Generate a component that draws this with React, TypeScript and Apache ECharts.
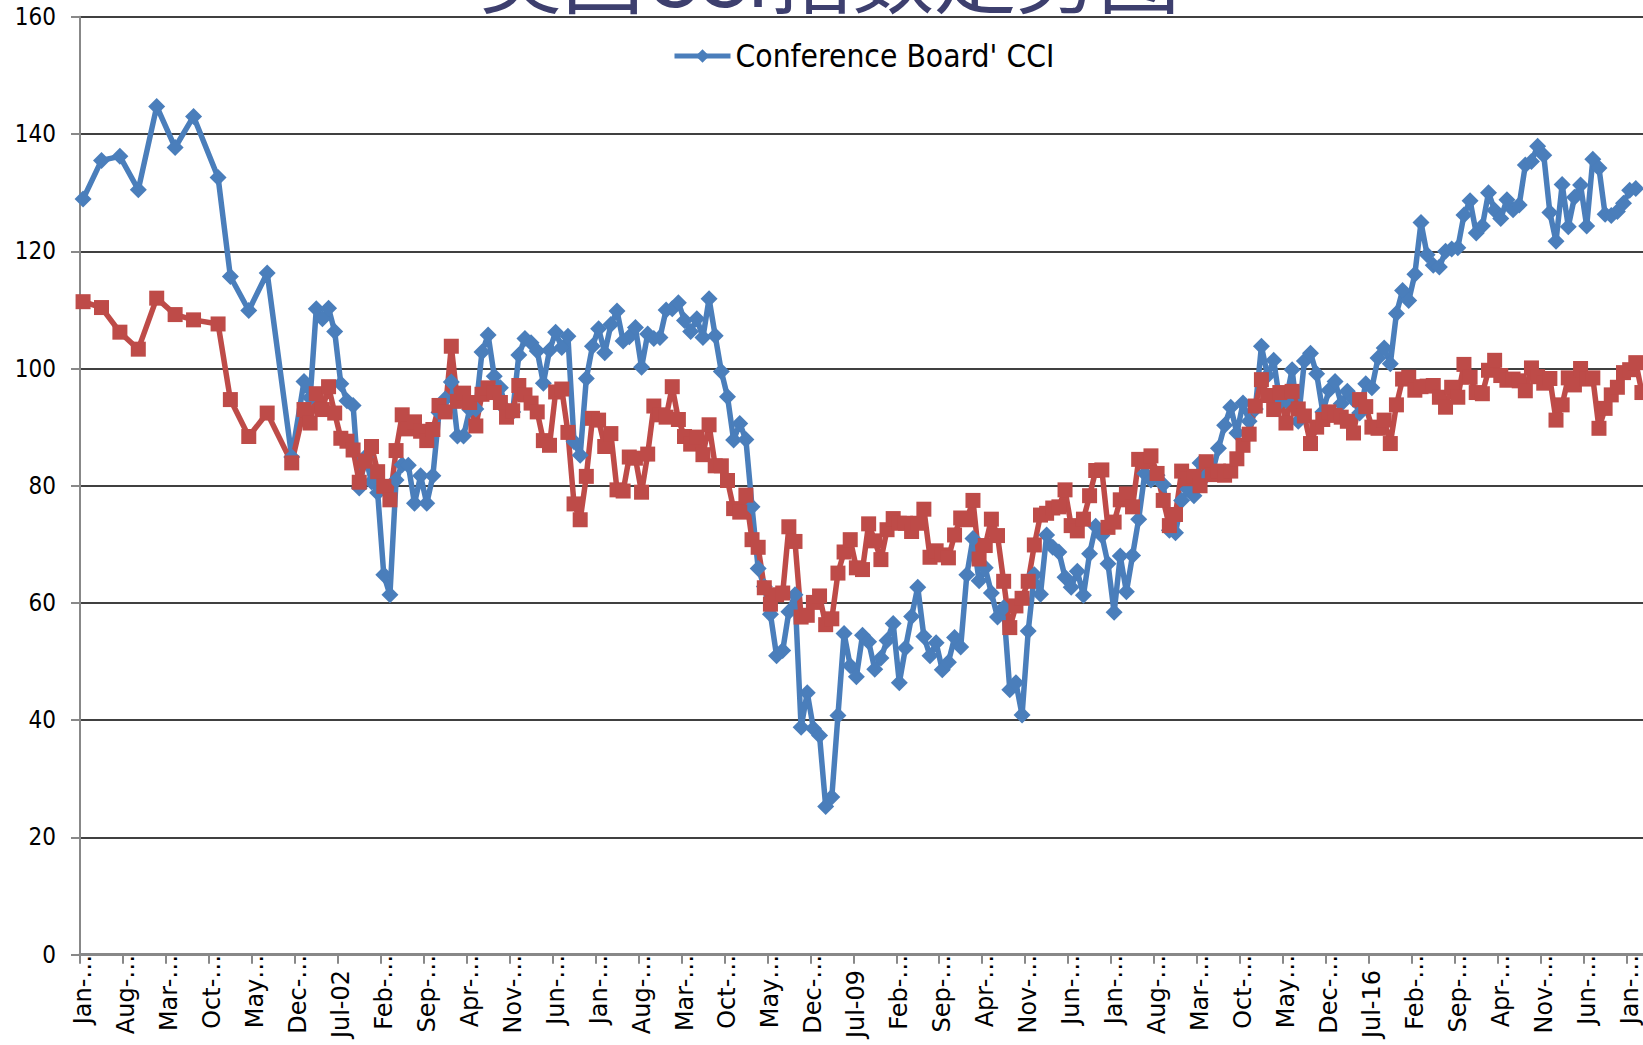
import React, { useEffect, useRef } from "react";
import * as echarts from "echarts";

const monthNames = ["Jan", "Feb", "Mar", "Apr", "May", "Jun", "Jul", "Aug", "Sep", "Oct", "Nov", "Dec"];
const firstYear = 1999;
const lastYear = 2020;
const lastMonthIndexOfLastYear = 2; // Mar-20

const categories: string[] = [];
for (let y = firstYear; y <= lastYear; y++) {
  for (let m = 0; m < 12; m++) {
    if (y === lastYear && m > lastMonthIndexOfLastYear) break;
    categories.push(`${monthNames[m]}-${String(y % 100).padStart(2, "0")}`);
  }
}

const yTicks = [0, 20, 40, 60, 80, 100, 120, 140, 160];

// Conference Board' CCI (blue), one row per year, null = no observation
const cci: (number | null)[] = [
  128.9, null, null, 135.5, null, null, 136.2, null, null, 130.5, null, null,
  144.7, null, null, 137.7, null, null, 143.0, null, null, null, 132.6, null,
  115.7, null, null, 109.9, null, null, 116.3, null, null, null, 84.9, null,
  97.8, 95.0, 110.2, 108.5, 110.3, 106.3, 97.4, 94.5, 93.7, 79.6, 84.9, 80.7,
  78.8, 64.8, 61.4, 81.0, 83.6, 83.5, 77.0, 81.7, 77.0, 81.7, 92.5, 94.8,
  97.7, 88.5, 88.5, 93.0, 93.1, 102.8, 105.7, 98.7, 96.7, 92.9, 92.6, 102.3,
  105.1, 104.4, 103.0, 97.5, 103.1, 106.2, 103.6, 105.5, 87.5, 85.2, 98.3, 103.8,
  106.8, 102.7, 107.5, 109.8, 104.7, 105.4, 107.0, 100.2, 105.9, 105.1, 105.3, 110.0,
  110.2, 111.2, 108.2, 106.3, 108.5, 105.3, 111.9, 105.6, 99.5, 95.2, 87.8, 90.6,
  87.9, 76.4, 65.9, 62.8, 58.1, 51.0, 51.9, 58.5, 61.4, 38.8, 44.7, 38.6,
  37.4, 25.3, 26.9, 40.8, 54.8, 49.3, 47.4, 54.5, 53.4, 48.7, 50.6, 53.6,
  56.5, 46.4, 52.3, 57.7, 62.7, 54.3, 51.0, 53.2, 48.6, 49.9, 54.1, 52.5,
  64.8, 71.0, 63.8, 66.0, 61.7, 57.6, 59.2, 45.2, 46.4, 40.9, 55.2, 64.8,
  61.5, 71.6, 69.5, 68.7, 64.4, 62.7, 65.4, 61.3, 68.4, 73.1, 71.5, 66.7,
  58.4, 68.0, 61.9, 68.1, 74.3, 82.1, 81.0, 81.8, 80.2, 72.4, 72.0, 77.5,
  79.4, 78.3, 83.9, 81.7, 82.2, 86.4, 90.3, 93.4, 89.0, 94.1, 91.0, 93.1,
  103.8, 98.8, 101.4, 94.3, 94.6, 99.8, 91.0, 101.3, 102.6, 99.1, 92.6, 96.3,
  97.8, 94.0, 96.1, 94.7, 92.4, 97.4, 96.7, 101.8, 103.5, 100.8, 109.4, 113.3,
  111.6, 116.1, 124.9, 119.4, 117.6, 117.3, 120.0, 120.4, 120.6, 126.2, 128.6, 123.1,
  124.3, 130.0, 127.0, 125.6, 128.8, 127.1, 127.9, 134.7, 135.3, 137.9, 136.4, 126.6,
  121.7, 131.4, 124.2, 129.2, 131.3, 124.3, 135.7, 134.2, 126.3, 126.1, 126.8, 128.2,
  130.4, 130.7, null,
];

// Consumer sentiment (red), one row per year, null = no observation
const sentiment: (number | null)[] = [
  111.4, null, null, 110.4, null, null, 106.2, null, null, 103.3, null, null,
  112.0, null, null, 109.2, null, null, 108.3, null, null, null, 107.6, null,
  94.7, null, null, 88.4, null, null, 92.4, null, null, null, 83.9, null,
  93.0, 90.7, 95.7, 93.0, 96.9, 92.4, 88.1, 87.6, 86.1, 80.6, 84.2, 86.7,
  82.4, 79.9, 77.6, 86.0, 92.1, 89.7, 90.9, 89.3, 87.7, 89.6, 93.7, 92.6,
  103.8, 94.4, 95.8, 94.2, 90.2, 95.6, 96.7, 95.9, 94.2, 91.7, 92.8, 97.1,
  95.5, 94.1, 92.6, 87.7, 86.9, 96.0, 96.5, 89.1, 76.9, 74.2, 81.6, 91.5,
  91.2, 86.7, 88.9, 79.3, 79.1, 84.9, 84.7, 78.9, 85.4, 93.6, 92.1, 91.7,
  96.9, 91.3, 88.4, 87.1, 88.3, 85.3, 90.4, 83.4, 83.4, 80.9, 76.1, 75.5,
  78.4, 70.8, 69.5, 62.6, 59.8, 61.4, 61.7, 73.0, 70.5, 57.6, 57.9, 60.1,
  61.2, 56.3, 57.3, 65.1, 68.7, 70.8, 66.0, 65.7, 73.5, 70.6, 67.4, 72.5,
  74.4, 73.6, 73.6, 72.2, 73.6, 76.0, 67.8, 68.9, 68.2, 67.7, 71.6, 74.5,
  74.2, 77.5, 67.5, 69.8, 74.3, 71.5, 63.7, 55.8, 59.5, 60.8, 63.7, 69.9,
  75.0, 75.3, 76.2, 76.4, 79.3, 73.2, 72.3, 74.3, 78.3, 82.6, 82.7, 72.9,
  73.8, 77.6, 78.6, 76.4, 84.5, 84.1, 85.1, 82.1, 77.5, 73.2, 75.1, 82.5,
  81.2, 81.6, 80.0, 84.1, 81.9, 82.5, 81.8, 82.5, 84.6, 86.9, 88.8, 93.6,
  98.1, 95.4, 93.0, 95.9, 90.7, 96.1, 93.1, 91.9, 87.2, 90.0, 91.3, 92.6,
  92.0, 91.7, 91.0, 89.0, 94.7, 93.5, 90.0, 89.8, 91.2, 87.2, 93.8, 98.2,
  98.5, 96.3, 96.9, 97.0, 97.1, 95.1, 93.4, 96.8, 95.1, 100.7, 98.5, 95.9,
  95.7, 99.7, 101.4, 98.8, 98.0, 98.2, 97.9, 96.2, 100.1, 98.6, 97.5, 98.3,
  91.2, 93.8, 98.4, 97.2, 100.0, 98.2, 98.4, 89.8, 93.2, 95.5, 96.8, 99.3,
  99.8, 101.0, 95.9,
];

const titleText = "美国CCI指数走势图";
const blueName = "Conference Board' CCI";
const redName = "Consumer Sentiment";

function formatLabel(v: string): string {
  if (v.startsWith("Jul")) return v + "\u00A0\u00A0";
  if (v.startsWith("May")) return "May…";
  return v.slice(0, 4) + "…";
}

export default function App() {
  const ref = useRef<HTMLDivElement>(null);
  useEffect(() => {
    if (!ref.current) return;
    const chart = echarts.init(ref.current, null, { renderer: "svg" });
    const axisGray = "#888888";
    const blue = "#4a7ebb";
    const red = "#be4b48";
    chart.setOption({
      animation: false,
      backgroundColor: "#ffffff",
      grid: {
        left: 80,
        right: -2,
        top: 16.8,
        bottom: 90.3,
        containLabel: false,
        outerBoundsMode: "none",
      },
      legend: {
        data: [blueName],
        left: 667,
        top: 35,
        itemWidth: 56,
        itemHeight: 17,
        itemGap: 6,
        lineStyle: { width: 5 },
        textStyle: {
          fontSize: 31.5,
          fontFamily: "'DejaVu Sans Condensed', 'DejaVu Sans', sans-serif",
          color: "#000000",
        },
      },
      graphic: [
        {
          type: "text",
          x: 830,
          y: 12,
          style: {
            text: titleText,
            font: 'normal 82px "Noto Sans CJK SC"',
            fill: "#3d3f6e",
            textAlign: "center",
            textVerticalAlign: "bottom",
          },
          z: 100,
        },
      ],
      xAxis: {
        type: "category",
        data: categories,
        boundaryGap: true,
        axisLine: { show: true, lineStyle: { color: axisGray, width: 3 } },
        axisTick: { show: true, interval: 6, length: 9, lineStyle: { color: axisGray, width: 2 } },
        axisLabel: {
          interval: 6,
          rotate: 90,
          margin: 0,
          fontSize: 24,
          fontFamily: "'DejaVu Sans', sans-serif",
          color: "#000000",
          formatter: formatLabel,
        },
        splitLine: { show: false },
      },
      yAxis: {
        type: "value",
        min: yTicks[0],
        max: yTicks[yTicks.length - 1],
        interval: yTicks[1] - yTicks[0],
        axisLine: { show: true, lineStyle: { color: axisGray, width: 2 } },
        axisTick: { show: true, length: 9, lineStyle: { color: axisGray, width: 2 } },
        axisLabel: {
          margin: 24,
          fontSize: 24,
          fontFamily: "'DejaVu Sans Condensed', 'DejaVu Sans', sans-serif",
          color: "#000000",
        },
        splitLine: { show: true, lineStyle: { color: "#000000", width: 1.6 } },
      },
      series: [
        {
          name: blueName,
          type: "line",
          data: cci,
          connectNulls: true,
          symbol: "diamond",
          symbolSize: 17,
          showAllSymbol: true,
          lineStyle: { color: blue, width: 5.5 },
          itemStyle: { color: blue },
        },
        {
          name: redName,
          type: "line",
          data: sentiment,
          connectNulls: true,
          symbol: "rect",
          symbolSize: 15,
          showAllSymbol: true,
          lineStyle: { color: red, width: 5.5 },
          itemStyle: { color: red },
        },
      ],
    });
    return () => chart.dispose();
  }, []);
  return (
    <div
      ref={ref}
      style={{ position: "fixed", left: 0, top: 0, width: 1643, height: 1045, background: "#fff" }}
    />
  );
}
